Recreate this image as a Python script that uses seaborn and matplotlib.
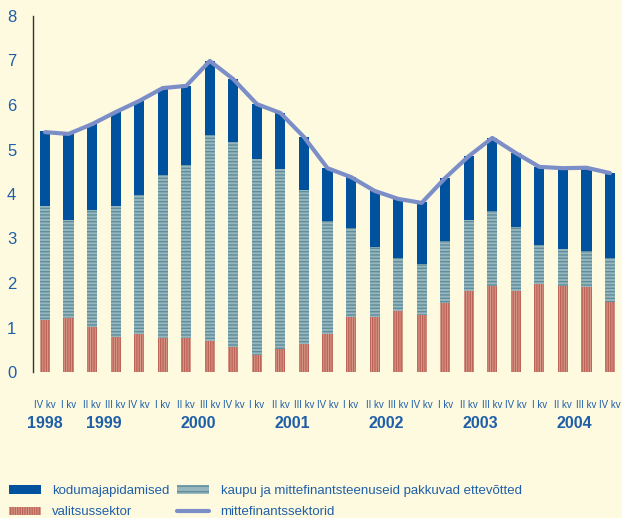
import numpy as np
import matplotlib
matplotlib.use("Agg")
import matplotlib.pyplot as plt
import seaborn as sns
from matplotlib.patches import Patch
from matplotlib.lines import Line2D

# Quarter labels, 1998 IV kv .. 2004 IV kv
quarters = ["IV kv"] + ["I kv", "II kv", "III kv", "IV kv"] * 6
years = ["1998", "1999", "2000", "2001", "2002", "2003", "2004"]
year_pos = [0, 2.5, 6.5, 10.5, 14.5, 18.5, 22.5]

# Segment heights
valitsus = [1.17, 1.21, 1.01, 0.79, 0.85, 0.76, 0.76, 0.70, 0.57, 0.38, 0.52, 0.63, 0.85,
            1.24, 1.24, 1.37, 1.28, 1.55, 1.82, 1.93, 1.82, 1.98, 1.93, 1.91, 1.57]
ettevotted = [2.56, 2.21, 2.63, 2.94, 3.13, 3.67, 3.89, 4.63, 4.60, 4.41, 4.04, 3.46, 2.54,
              2.00, 1.57, 1.19, 1.15, 1.39, 1.60, 1.69, 1.44, 0.87, 0.83, 0.81, 0.99]
kodu = [1.69, 1.93, 1.93, 2.11, 2.11, 1.95, 1.78, 1.66, 1.41, 1.23, 1.26, 1.19, 1.19,
        1.14, 1.26, 1.33, 1.38, 1.42, 1.43, 1.64, 1.66, 1.76, 1.82, 1.87, 1.91]
mittefin = [5.39, 5.35, 5.57, 5.84, 6.09, 6.38, 6.43, 6.99, 6.58, 6.02, 5.82, 5.28, 4.58,
            4.38, 4.07, 3.89, 3.80, 4.36, 4.85, 5.26, 4.92, 4.61, 4.58, 4.59, 4.47]

bg = "#FEFADF"
txt = "#1F5FA8"
blue = "#00519E"
line_c = "#7B8EC8"
red_face, red_hatch = "#D99C8C", "#BC6457"
teal_face, teal_hatch = "#98B6BD", "#5E8D9B"

sns.set_theme(style="white")
plt.rcParams["font.family"] = ["Liberation Sans Narrow", "Liberation Sans", "DejaVu Sans"]
plt.rcParams["hatch.linewidth"] = 1.0

fig = plt.figure(figsize=(6.22, 5.18), dpi=100, facecolor=bg)
ax = fig.add_axes([33 / 622, 1 - 372 / 518, 1 - 33 / 622, (372 - 16) / 518])
ax.set_facecolor(bg)

x = np.arange(len(quarters))
w = 0.43
bottom2 = np.array(valitsus)
bottom3 = bottom2 + np.array(ettevotted)

ax.bar(x, valitsus, width=w, color=red_face, edgecolor=red_hatch, linewidth=0, hatch="|||||||")
ax.bar(x, ettevotted, width=w, bottom=bottom2, color=teal_face, edgecolor=teal_hatch,
       linewidth=0, hatch="-----")
ax.bar(x, kodu, width=w, bottom=bottom3, color=blue, linewidth=0)
sns.lineplot(x=x, y=mittefin, ax=ax, color=line_c, linewidth=3)

ax.set_xlim(-0.51, 24.51)
ax.set_ylim(0, 8)
ax.set_yticks(range(0, 9))
ax.tick_params(axis="y", direction="out", length=3, width=1, colors="#333333",
               labelcolor=txt, labelsize=12, pad=9)
ax.set_xticks(x)
ax.set_xticklabels(quarters, fontsize=7, color=txt)
ax.tick_params(axis="x", length=0, pad=20)
for yp, yr in zip(year_pos, years):
    ax.text(yp, -1.16, yr, ha="center", va="center", fontsize=11.5, color=txt,
            fontweight="bold", clip_on=False)

for s in ["top", "right", "bottom"]:
    ax.spines[s].set_visible(False)
ax.spines["left"].set_color("#333333")
ax.spines["left"].set_linewidth(1)

handles = [
    Patch(facecolor=blue, linewidth=0, label="kodumajapidamised"),
    Patch(facecolor=red_face, edgecolor=red_hatch, linewidth=0, hatch="|||||||", label="valitsussektor"),
    Patch(facecolor=teal_face, edgecolor=teal_hatch, linewidth=0, hatch="---", label="kaupu ja mittefinantsteenuseid pakkuvad ettevõtted"),
    Line2D([0], [0], color=line_c, linewidth=3, label="mittefinantssektorid"),
]
leg = fig.legend(handles=handles, ncol=2, loc="lower left", bbox_to_anchor=(0.01, -0.006),
                 frameon=False, fontsize=9.5, handlelength=2.4, handleheight=0.6,
                 columnspacing=0.55, labelspacing=0.72, handletextpad=0.9,
                 borderpad=0.2, borderaxespad=0)
for t in leg.get_texts():
    t.set_color(txt)

fig.savefig("out.png", dpi=100, facecolor=bg)
